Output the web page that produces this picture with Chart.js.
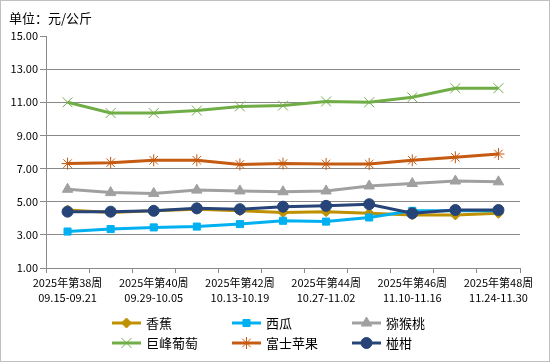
<!DOCTYPE html>
<html><head><meta charset="utf-8">
<script src="https://cdn.jsdelivr.net/npm/chart.js@4.4.1/dist/chart.umd.min.js"></script>
<style>html,body{margin:0;padding:0;background:#fff}canvas{display:block}</style>
</head><body>
<canvas id="c" width="550" height="362"></canvas>
<script>
const weeks = ['2025年第38周','2025年第39周','2025年第40周','2025年第41周','2025年第42周','2025年第43周','2025年第44周','2025年第45周','2025年第46周','2025年第47周','2025年第48周'];
const dates = ['09.15-09.21','09.22-09.28','09.29-10.05','10.06-10.12','10.13-10.19','10.20-10.26','10.27-11.02','11.03-11.09','11.10-11.16','11.17-11.23','11.24-11.30'];
const banana = [4.5,4.35,4.45,4.55,4.45,4.35,4.4,4.3,4.2,4.2,4.3];
const watermelon = [3.2,3.35,3.45,3.5,3.65,3.85,3.8,4.05,4.45,4.45,4.45];
const kiwi = [5.75,5.55,5.5,5.7,5.65,5.6,5.65,5.95,6.1,6.25,6.2];
const grapes = [11.0,10.35,10.35,10.5,10.75,10.8,11.05,11.0,11.3,11.85,11.85];
const apple = [7.3,7.35,7.5,7.5,7.25,7.3,7.28,7.28,7.5,7.68,7.88];
const mandarin = [4.4,4.4,4.45,4.6,4.55,4.7,4.75,4.85,4.3,4.5,4.5];
const seriesNames = ['香蕉','西瓜','猕猴桃','巨峰葡萄','富士苹果','椪柑'];
const unitText = '单位：元/公斤';

const F = '"Noto Sans CJK SC","Noto Sans",sans-serif';
const GRID = '#898989';

function ds(label, data, color, style, radius, order, pbw) {
  return {label, data, borderColor: color, backgroundColor: color, borderWidth: 3,
    pointStyle: style, pointRadius: radius, pointBorderWidth: pbw, pointBackgroundColor: color,
    pointBorderColor: color, tension: 0, order};
}
const datasets = [
  ds(seriesNames[0], banana, '#BF9000', 'rectRot', 5, 6, 1),
  ds(seriesNames[1], watermelon, '#00B0F0', 'rect', 5, 5, 1),
  ds(seriesNames[2], kiwi, '#A0A0A0', 'triangle', 6, 4, 1),
  ds(seriesNames[3], grapes, '#70AD47', 'crossRot', 7, 3, 1),
  ds(seriesNames[4], apple, '#C55A11', 'star', 6, 2, 1),
  ds(seriesNames[5], mandarin, '#264478', 'circle', 5.5, 1, 1)
];

const extras = {
  id: 'extras',
  afterDraw(chart) {
    const ctx = chart.ctx;
    ctx.save();
    ctx.fillStyle = '#000';
    ctx.font = '13px ' + F;
    ctx.textBaseline = 'middle';
    ctx.textAlign = 'left';
    ctx.fillText(unitText, 9, 18);
    const cols = [112, 232, 352];
    const rows = [323, 343];
    chart.data.datasets.forEach((d, i) => {
      const x0 = cols[i % 3], y = rows[Math.floor(i / 3)];
      ctx.strokeStyle = d.borderColor;
      ctx.lineWidth = 3;
      ctx.beginPath(); ctx.moveTo(x0, y); ctx.lineTo(x0 + 29, y); ctx.stroke();
      ctx.fillStyle = d.pointBackgroundColor;
      ctx.strokeStyle = d.pointBorderColor;
      ctx.lineWidth = d.pointBorderWidth;
      Chart.helpers.drawPoint(ctx, {pointStyle: d.pointStyle, radius: d.pointRadius, rotation: 0, borderWidth: d.pointBorderWidth}, x0 + 14.5, y);
      ctx.fillStyle = '#000';
      ctx.font = '13px ' + F;
      ctx.fillText(d.label, x0 + 34, y);
    });
    ctx.strokeStyle = '#C0C0C0';
    ctx.lineWidth = 1;
    ctx.strokeRect(0.5, 0.5, 549, 361);
    ctx.restore();
  }
};

new Chart(document.getElementById('c'), {
  type: 'line',
  data: {labels: weeks, datasets},
  plugins: [extras],
  options: {
    responsive: false, animation: false, devicePixelRatio: 1,
    layout: {padding: {left: 0, right: 30, top: 36, bottom: 0}},
    plugins: {legend: {display: false}, tooltip: {enabled: false}},
    scales: {
      x: {
        offset: true,
        grid: {offset: true, drawOnChartArea: false, color: GRID, tickLength: 5},
        border: {color: GRID, width: 1},
        ticks: {autoSkip: false, maxRotation: 0, minRotation: 0, padding: 2, color: '#000',
          font: {family: F, size: 11, lineHeight: '15.5px'},
          callback: (v, i) => i % 2 === 0 ? [weeks[i], dates[i]] : ''},
        afterFit: s => { s.height = 94; }
      },
      y: {
        min: 1, max: 15,
        ticks: {stepSize: 2, padding: 2, color: '#000', font: {family: F, size: 11},
          callback: v => Number(v).toFixed(2)},
        grid: {color: c => (c.tick && c.tick.value === 15) ? 'rgba(0,0,0,0)' : GRID, tickColor: GRID, tickLength: 6},
        border: {color: GRID, width: 1},
        afterFit: s => { s.width = 46; }
      }
    }
  }
});
</script>
</body></html>
